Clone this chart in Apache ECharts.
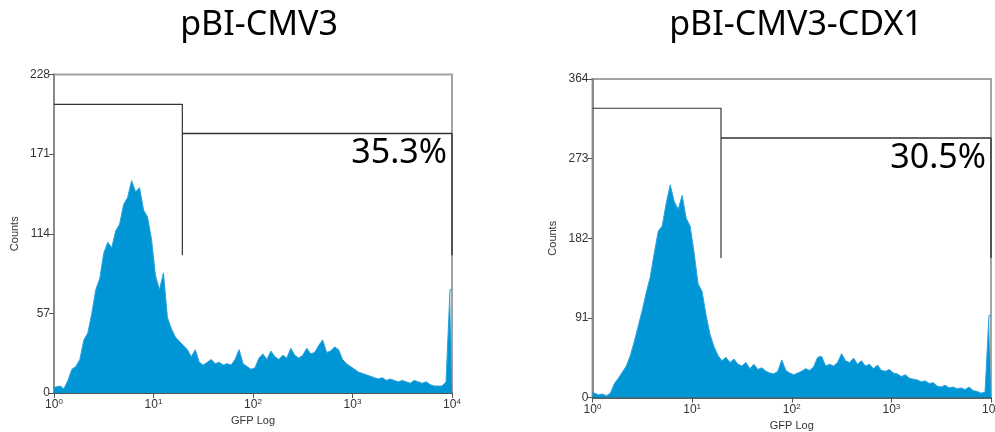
<!DOCTYPE html>
<html>
<head>
<meta charset="utf-8">
<script src="https://cdn.jsdelivr.net/npm/echarts@6/dist/echarts.min.js"></script>
<style>
  html, body { margin: 0; padding: 0; background: #fff; }
  #c { width: 995px; height: 432px; }
</style>
</head>
<body>
<div id="c"></div>
<script>
// Sample names and axis scales
const titles = ['pBI-CMV3', 'pBI-CMV3-CDX1'];
const yMax = [228, 364];
const yStep = [57, 91];
const decadeTicks = [0, 1, 2, 3, 4];      // log10 of GFP intensity: 10^0 .. 10^4
const binWidth = 0.04;                     // decades per histogram channel

// GFP histogram counts, one value per channel (100 channels over 4 decades)
const countsCMV3 = [
  4, 5, 3, 9, 17, 19, 24, 38, 43, 57,
  74, 82, 100, 108, 104, 116, 121, 135, 140, 152,
  144, 147, 131, 126, 110, 84, 74, 86, 54, 46,
  40, 37, 34, 31, 26, 31, 22, 20, 22, 24,
  21, 22, 20, 21, 20, 24, 31, 21, 19, 17,
  18, 25, 28, 24, 30, 26, 24, 27, 25, 32,
  27, 25, 27, 32, 28, 29, 34, 38, 29, 30,
  33, 31, 24, 21, 19, 17, 15, 14, 13, 12,
  11, 10, 11, 9, 10, 9, 8, 9, 8, 7,
  9, 8, 7, 8, 6, 5, 5, 5, 8, 74
];
const countsCDX1 = [
  6, 3, 4, 2, 5, 16, 22, 29, 36, 48,
  64, 82, 100, 120, 138, 165, 190, 196, 222, 243,
  224, 215, 231, 205, 196, 165, 130, 121, 94, 72,
  58, 48, 42, 46, 40, 44, 38, 36, 40, 33,
  38, 32, 34, 30, 28, 27, 30, 43, 31, 28,
  26, 28, 30, 33, 31, 35, 46, 47, 36, 38,
  36, 40, 50, 42, 40, 45, 38, 42, 36, 38,
  33, 37, 31, 30, 32, 28, 27, 24, 26, 22,
  21, 20, 18, 19, 16, 17, 13, 12, 14, 11,
  12, 10, 11, 9, 12, 8, 7, 5, 6, 94
];

// Gates: split point (log10), bracket heights (counts) and the gated percentage
const gateSplit = [1.29, 1.29];
const gateAllLevel = [206.6, 330.6];
const gatePosLevel = [185.8, 296.6];
const gateFoot = [98.6, 159.4];
const gatePercent = ['35.3%', '30.5%'];

const histograms = [countsCMV3, countsCDX1];

const grids = [
  { left: 54, right: 543, top: 74.5, bottom: 39 },
  { left: 592.5, right: 4, top: 79, bottom: 34.5 }
];
const titleCenters = [254, 791];

const axisFont = 'Liberation Sans, Arial, sans-serif';
const histColor = '#0096d6';

function toPoints(counts) {
  const pts = [[0, counts[0]]];
  counts.forEach((c, i) => pts.push([(i + 0.5) * binWidth, c]));
  pts.push([decadeTicks[decadeTicks.length - 1], counts[counts.length - 1]]);
  return pts;
}

const option = {
  animation: false,
  backgroundColor: '#fff',
  title: titles.map((t, k) => ({
    text: t,
    left: titleCenters[k],
    top: 3,
    textAlign: 'center',
    textStyle: { fontFamily: 'Noto Sans', fontSize: 34, fontWeight: 'normal', color: '#000' }
  })),
  grid: grids.map(g => Object.assign({
    show: true, borderColor: '#a3a3a3', borderWidth: 2, backgroundColor: 'transparent',
    containLabel: false, outerBoundsMode: 'none'
  }, g)),
  xAxis: grids.map((g, k) => ({
    type: 'value',
    gridIndex: k,
    min: decadeTicks[0],
    max: decadeTicks[decadeTicks.length - 1],
    interval: 1,
    name: 'GFP Log',
    nameLocation: 'middle',
    nameGap: 22,
    nameTextStyle: { fontFamily: axisFont, fontSize: 11, color: '#333' },
    axisLine: { show: true, lineStyle: { color: '#3a3a3a', width: 1.5 } },
    axisTick: { show: true, length: 5, lineStyle: { color: '#555' } },
    splitLine: { show: false },
    axisLabel: {
      margin: 5,
      formatter: v => '{b|10}{s|' + v + '}',
      rich: {
        b: { fontFamily: axisFont, fontSize: 12, color: '#333', lineHeight: 14 },
        s: { fontFamily: axisFont, fontSize: 8, color: '#333', verticalAlign: 'top', lineHeight: 14 }
      }
    }
  })),
  yAxis: grids.map((g, k) => ({
    type: 'value',
    gridIndex: k,
    min: 0,
    max: yMax[k],
    interval: yStep[k],
    name: 'Counts',
    nameLocation: 'middle',
    nameGap: 34,
    nameTextStyle: { fontFamily: axisFont, fontSize: 11, color: '#333' },
    axisLine: { show: true, lineStyle: { color: '#8a8a8a', width: 2 } },
    axisTick: { show: true, length: 5, lineStyle: { color: '#555' } },
    splitLine: { show: false },
    axisLabel: { margin: 4, fontFamily: axisFont, fontSize: 12, color: '#333' }
  })),
  series: []
};

histograms.forEach((counts, k) => {
  option.series.push({
    type: 'line',
    xAxisIndex: k,
    yAxisIndex: k,
    data: toPoints(counts),
    symbol: 'none',
    smooth: false,
    lineStyle: { color: '#2ba2dc', width: 1 },
    areaStyle: { color: histColor, opacity: 1 },
    z: 2
  });
  // gate bracket for all events (left)
  option.series.push({
    type: 'line',
    xAxisIndex: k,
    yAxisIndex: k,
    data: [[0, gateAllLevel[k]], [gateSplit[k], gateAllLevel[k]], [gateSplit[k], gateFoot[k]]],
    symbol: 'none',
    lineStyle: { color: '#333', width: 1.2 },
    z: 3
  });
  // gate bracket for GFP-positive events (right)
  option.series.push({
    type: 'line',
    xAxisIndex: k,
    yAxisIndex: k,
    data: [[gateSplit[k], gatePosLevel[k]], [decadeTicks[decadeTicks.length - 1], gatePosLevel[k]],
           [decadeTicks[decadeTicks.length - 1], gateFoot[k]]],
    symbol: 'none',
    lineStyle: { color: '#333', width: 1.4 },
    z: 3
  });
});

const chart = echarts.init(document.getElementById('c'), null, { renderer: 'canvas' });
chart.setOption(option);

// Percentage labels, tucked under the right end of the positive gate
const labels = gatePercent.map((txt, k) => {
  const p = chart.convertToPixel({ gridIndex: k }, [decadeTicks[decadeTicks.length - 1], gatePosLevel[k]]);
  return {
    type: 'text',
    x: p[0] - 5,
    y: p[1] + 3,
    style: {
      text: txt,
      align: 'right',
      verticalAlign: 'top',
      fontFamily: 'Noto Sans',
      fontSize: 34,
      fill: '#000'
    },
    z: 10
  };
});
chart.setOption({ graphic: labels });
</script>
</body>
</html>
